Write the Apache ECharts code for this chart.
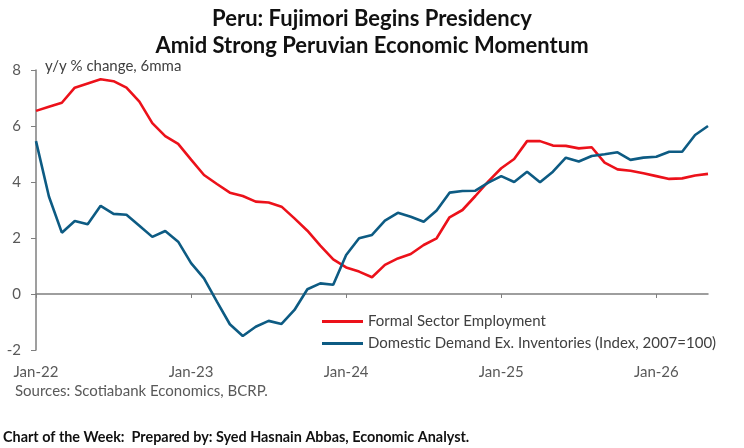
<!DOCTYPE html>
<html><head><meta charset="utf-8">
<script src="https://cdn.jsdelivr.net/npm/echarts@6/dist/echarts.min.js"></script>
<style>html,body{margin:0;padding:0;background:#fff}#c{width:744px;height:448px}</style>
</head><body><div id="c"></div>
<script>
var months = ['Jan','Feb','Mar','Apr','May','Jun','Jul','Aug','Sep','Oct','Nov','Dec'];
var categories = [];
for (var y = 22; y <= 26; y++) { for (var m = 0; m < 12; m++) { if (y === 26 && m > 4) break; categories.push(months[m] + '-' + y); } }
var formalEmployment = [6.54,6.69,6.83,7.37,7.52,7.67,7.60,7.37,6.87,6.10,5.64,5.36,
  4.80,4.25,3.93,3.62,3.50,3.30,3.27,3.12,2.70,2.26,1.73,1.24,
  0.95,0.80,0.60,1.04,1.27,1.43,1.75,1.99,2.74,3.00,3.50,4.02,
  4.49,4.82,5.46,5.46,5.30,5.29,5.20,5.24,4.69,4.45,4.40,4.31,
  4.21,4.11,4.13,4.23,4.29];
var domesticDemand = [5.46,3.48,2.19,2.61,2.49,3.15,2.86,2.83,2.44,2.04,2.25,1.87,
  1.10,0.56,-0.27,-1.08,-1.50,-1.17,-0.96,-1.07,-0.57,0.17,0.38,0.33,
  1.39,1.99,2.11,2.62,2.90,2.76,2.58,2.98,3.62,3.68,3.69,3.98,
  4.21,4.00,4.37,3.99,4.37,4.87,4.73,4.93,4.99,5.06,4.79,4.87,
  4.90,5.08,5.08,5.68,6.00];
var yTicks = {min:-2, max:8, interval:2};
var seriesNames = ['Formal Sector Employment','Domestic Demand Ex. Inventories (Index, 2007=100)'];

var chart = echarts.init(document.getElementById('c'), null, {renderer:'canvas'});
var txt = '#404040';
var axisCol = '#7f7f7f';
var red = '#ec111a', blue = '#0d5b83';
var fam = 'Lato, "Open Sans", sans-serif';
function isJan(i){ return i % 12 === 0; }
chart.setOption({
  animation:false,
  backgroundColor:'#fff',
  textStyle:{fontFamily:fam},
  grid:{left:36,right:36,top:70,bottom:98},
  title:{text:'Peru: Fujimori Begins Presidency\nAmid Strong Peruvian Economic Momentum',left:'center',top:0,
    textStyle:{fontFamily:fam,fontWeight:'bold',fontSize:22,lineHeight:27,color:'#111'}},
  legend:{orient:'vertical',left:322,top:314,padding:0,itemWidth:41,itemHeight:3,itemGap:7,icon:'rect',
    textStyle:{fontFamily:fam,fontSize:15,lineHeight:14,color:txt},
    data:[seriesNames[0],seriesNames[1]]},
  xAxis:[{type:'category',data:categories,boundaryGap:false,
     axisLine:{onZero:true,lineStyle:{color:axisCol,width:1.5}},
     axisTick:{show:true,interval:function(i){return isJan(i);},length:4,lineStyle:{color:axisCol}},
     axisLabel:{show:false},splitLine:{show:false}},
    {type:'category',data:categories,boundaryGap:false,position:'bottom',
     axisLine:{show:false,onZero:false},axisTick:{show:false},
     axisLabel:{show:true,interval:function(i){return isJan(i);},margin:15,fontSize:15,color:'#595959',fontFamily:fam},
     splitLine:{show:false}}],
  yAxis:{type:'value',min:yTicks.min,max:yTicks.max,interval:yTicks.interval,
    axisLine:{show:true,lineStyle:{color:axisCol,width:1.5}},
    axisTick:{show:true,length:5,lineStyle:{color:axisCol}},
    axisLabel:{margin:15,fontSize:15,color:'#595959',fontFamily:fam},
    splitLine:{show:false}},
  graphic:[
    {type:'text',left:45,top:59,style:{text:'y/y % change, 6mma',fontSize:15,fill:txt,fontFamily:fam}},
    {type:'text',left:15,top:384,style:{text:'Sources: Scotiabank Economics, BCRP.',fontSize:15,fill:'#595959',fontFamily:fam}},
    {type:'text',left:3,top:430,style:{text:'Chart of the Week:  Prepared by: Syed Hasnain Abbas, Economic Analyst.',fontSize:14.4,fontWeight:'bold',fill:'#111',fontFamily:fam}}
  ],
  series:[
    {name:seriesNames[0],type:'line',xAxisIndex:0,data:formalEmployment,symbol:'none',lineStyle:{color:red,width:2.6},itemStyle:{color:red}},
    {name:seriesNames[1],type:'line',xAxisIndex:0,data:domesticDemand,symbol:'none',lineStyle:{color:blue,width:2.6},itemStyle:{color:blue}}
  ]
});
</script></body></html>
